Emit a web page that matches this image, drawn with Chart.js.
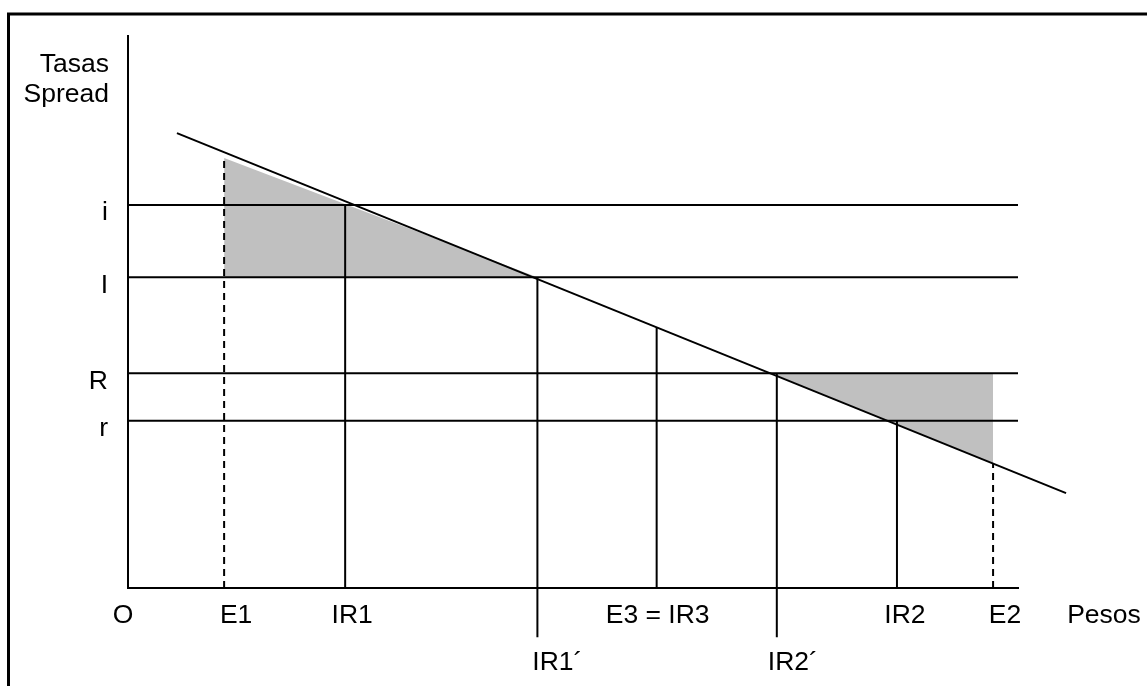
<!DOCTYPE html>
<html>
<head>
<meta charset="utf-8">
<script src="https://cdn.jsdelivr.net/npm/chart.js@4/dist/chart.umd.min.js"></script>
<style>
  html, body { margin: 0; padding: 0; background: #ffffff; }
  #wrap { width: 1147px; height: 686px; position: relative; }
</style>
</head>
<body>
<div id="wrap"><canvas id="c" width="1147" height="686"></canvas></div>
<script>
// ---- data (diagram units: 0..100 on both axes) ----
const yAxisTitle = ['Tasas', 'Spread'];
const xAxisTitle = 'Pesos';
const originLabel = 'O';

const yMarks = ['i', 'I', 'R', 'r'];
const yMarkValues = [69.4, 56.3, 38.9, 30.3];

const xMarks = ['E1', 'IR1', 'IR1´', 'E3 = IR3', 'IR2´', 'IR2', 'E2'];
const xMarkValues = [10.8, 24.4, 46.0, 59.4, 72.9, 86.4, 97.2];
const xMarkTops = [77.9, 69.4, 56.3, 47.2, 38.9, 30.3, 22.6];
const xMarkBottoms = [0, 0, -8.9, 0, -8.9, 0, 0];
const xMarkDashed = [true, false, false, false, false, false, true];
const xMarkRow = [1, 1, 2, 1, 2, 1, 1];

const curveX = [5.5, 105.4];
const curveY = [82.4, 17.2];

const leftAreaX = [10.8, 46.0];
const leftAreaY = [77.9, 56.3];
const leftAreaBase = 56.3;

const rightAreaX = [72.3, 97.2];
const rightAreaY = [38.9, 22.6];
const rightAreaBase = 38.9;

// ---- styling ----
const FONT = '26.5px "Liberation Sans", Arial, sans-serif';
const xLabelNudge = [12, 7, 20, 1, 16, 8, 12];

const pts = (xs, ys) => xs.map((x, i) => ({ x: x, y: ys[i] }));

const datasets = [];
// shaded areas
datasets.push({
  data: pts(leftAreaX, leftAreaY), fill: { value: leftAreaBase },
  backgroundColor: '#c0c0c0', borderWidth: 0, borderColor: 'rgba(0,0,0,0)',
  pointRadius: 0, clip: false, order: 10
});
datasets.push({
  data: pts(rightAreaX, rightAreaY), fill: { value: rightAreaBase },
  backgroundColor: '#c0c0c0', borderWidth: 0, borderColor: 'rgba(0,0,0,0)',
  pointRadius: 0, clip: false, order: 10
});
// horizontal rate lines
yMarkValues.forEach(v => datasets.push({
  data: [{ x: 0, y: v }, { x: 100, y: v }], fill: false,
  borderColor: '#000', borderWidth: 2, pointRadius: 0, clip: false, order: 1
}));
// vertical marks
xMarkValues.forEach((v, i) => datasets.push({
  data: [{ x: v, y: xMarkBottoms[i] }, { x: v, y: xMarkTops[i] }], fill: false,
  borderColor: '#000', borderWidth: 2, borderDash: xMarkDashed[i] ? [7, 5] : [],
  pointRadius: 0, clip: false, order: 1
}));
// sloped curve
datasets.push({
  data: pts(curveX, curveY), fill: false, borderColor: '#000', borderWidth: 2,
  pointRadius: 0, clip: false, order: 0
});

const framePlugin = {
  id: 'frame',
  beforeDraw(chart) {
    const ctx = chart.ctx;
    ctx.save();
    ctx.fillStyle = '#fff';
    ctx.fillRect(0, 0, chart.width, chart.height);
    ctx.strokeStyle = '#000';
    ctx.lineWidth = 3;
    ctx.strokeRect(8.5, 14, 1300, 900);
    ctx.restore();
  }
};

const labelPlugin = {
  id: 'labels',
  afterDraw(chart) {
    const ctx = chart.ctx;
    const xs = chart.scales.x, ys = chart.scales.y;
    const ca = chart.chartArea;
    ctx.save();
    ctx.fillStyle = '#000';
    ctx.font = FONT;
    ctx.textBaseline = 'alphabetic';
    // y marks
    ctx.textAlign = 'right';
    yMarks.forEach((t, i) => ctx.fillText(t, ca.left - 20, ys.getPixelForValue(yMarkValues[i]) + 15.5));
    ctx.fillText(yAxisTitle[0], ca.left - 19, 72);
    ctx.fillText(yAxisTitle[1], ca.left - 19, 102);
    // x marks
    ctx.textAlign = 'center';
    const row1 = ca.bottom + 35, row2 = ca.bottom + 82;
    xMarks.forEach((t, i) => {
      const px = xs.getPixelForValue(xMarkValues[i]) + xLabelNudge[i];
      ctx.fillText(t, px, xMarkRow[i] === 1 ? row1 : row2);
    });
    ctx.fillText(originLabel, xs.getPixelForValue(0) - 5, row1);
    ctx.fillText(xAxisTitle, xs.getPixelForValue(100) + 86, row1);
    ctx.restore();
  }
};

new Chart(document.getElementById('c'), {
  type: 'line',
  data: { datasets: datasets },
  options: {
    responsive: false,
    devicePixelRatio: 1,
    animation: false,
    layout: { padding: { left: 128, top: 36, right: 129, bottom: 98 } },
    plugins: {
      legend: { display: false },
      tooltip: { enabled: false },
      filler: { drawTime: 'beforeDatasetsDraw' }
    },
    scales: {
      x: {
        type: 'linear', min: 0, max: 100,
        grid: { display: false },
        border: { display: true, color: '#000', width: 2 },
        ticks: { display: false },
        afterFit: s => { s.height = 0; }
      },
      y: {
        type: 'linear', min: 0, max: 100,
        grid: { display: false },
        border: { display: true, color: '#000', width: 2 },
        ticks: { display: false },
        afterFit: s => { s.width = 0; }
      }
    }
  },
  plugins: [framePlugin, labelPlugin]
});
</script>
</body>
</html>
